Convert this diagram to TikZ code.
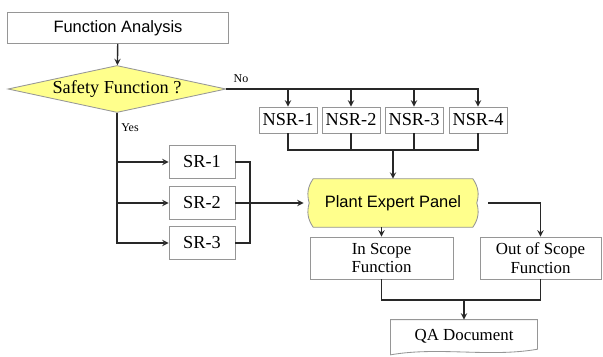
\documentclass[tikz,border=0pt]{standalone}
\usepackage{fontspec}
\setmainfont{Liberation Serif}
\setsansfont{Liberation Sans}
\usetikzlibrary{shapes.geometric,arrows,positioning,calc,backgrounds}
\definecolor{boxgray}{RGB}{150,150,150}
\definecolor{flowyellow}{RGB}{255,255,140}
\definecolor{linegray}{RGB}{40,40,40}

\begin{document}
\begin{tikzpicture}[
    x=0.025cm, y=-0.025cm,
    process/.style={rectangle, draw=boxgray, fill=white, line width=0.6pt, inner sep=1pt, align=center, font=\fontsize{13}{15}\selectfont},
    smallproc/.style={process, font=\fontsize{12}{13}\selectfont},
    sanstext/.style={font=\sffamily\fontsize{11.7}{14}\selectfont},
    decision/.style={diamond, draw=boxgray, fill=flowyellow, line width=0.6pt, shape aspect=4.3, inner sep=0pt, minimum width=5.45cm, minimum height=1.175cm, font=\fontsize{13}{15}\selectfont},
    panelshape/.style={draw=boxgray, fill=flowyellow, line width=0.6pt},
    docshape/.style={draw=boxgray, fill=white, line width=0.6pt},
    arrow/.style={->, >=stealth, line width=1pt, linegray},
    line/.style={line width=1pt, linegray},
    tag/.style={font=\fontsize{8.5}{10}\selectfont}
]
\useasboundingbox (0,0) rectangle (603,356);

\node[process, sanstext, minimum width=5.525cm, minimum height=0.775cm] (fa) at (118,28) {Function Analysis};
\node[decision] (safety) at (117,89) {Safety Function ?};
\draw[arrow] (fa) -- (safety);

% non safety related branch
\foreach \i/\x in {1/288,2/351,3/414,4/478}
  \node[process, minimum width=1.45cm, minimum height=0.65cm] (nsr\i) at (\x,120) {NSR-\i};

% safety related branch
\node[process, minimum width=1.65cm, minimum height=0.825cm] (sr1) at (202,162) {SR-1};
\node[process, minimum width=1.65cm, minimum height=0.825cm] (sr2) at (202,203) {SR-2};
\node[process, minimum width=1.65cm, minimum height=0.825cm] (sr3) at (202,243) {SR-3};

\node[sanstext, minimum width=4.175cm, minimum height=1.2cm] (panel) at (393,203) {Plant Expert Panel};
\node[smallproc, minimum width=3.575cm, minimum height=1.05cm] (inscope) at (381.5,258) {In Scope\\Function};
\node[smallproc, minimum width=3.025cm, minimum height=1.05cm] (outscope) at (540.5,258) {Out of Scope\\Function};
\node[smallproc, draw=none, fill=none, minimum width=3.65cm, minimum height=0.825cm] (qa) at (464,336.5) {QA Document};

\begin{scope}[on background layer]
  \draw[panelshape] ([xshift=0.1cm]panel.north west) -- ([xshift=-0.1cm]panel.north east)
    to[bend left=25] (panel.east) to[bend left=25] ([xshift=-0.1cm]panel.south east)
    -- ([xshift=0.1cm]panel.south west) to[bend left=25] (panel.west)
    to[bend left=25] ([xshift=0.1cm]panel.north west) -- cycle;
  \draw[docshape] (qa.north west) -- (qa.north east) -- ([yshift=3pt]qa.south east)
    .. controls ([xshift=-1.2cm,yshift=-3pt]qa.south east) and ([xshift=1.2cm,yshift=5pt]qa.south west)
    .. ([yshift=-1pt]qa.south west) -- cycle;
\end{scope}

% No
\node[tag] (no) at (241,79) {No};
\draw[arrow] (safety.east) -| (nsr4.north);
\foreach \i in {1,2,3}
  \draw[arrow] (nsr\i.north |- safety.east) -- (nsr\i.north);
\coordinate (nsrbus) at (panel.north |- 0,150);
\draw[line] (nsr1.south) |- (nsrbus) -| (nsr4.south);
\draw[line] (nsr2.south) -- (nsr2.south |- nsrbus);
\draw[line] (nsr3.south) -- (nsr3.south |- nsrbus);
\draw[arrow] (nsrbus) -- (panel.north);

% Yes
\node[tag] (yes) at (130,128) {Yes};
\draw[arrow] (safety.south) |- (sr3.west);
\draw[arrow] (safety.south |- sr1.west) -- (sr1.west);
\draw[arrow] (safety.south |- sr2.west) -- (sr2.west);
\coordinate (srbus) at (250,203);
\draw[line] (sr1.east) -| (srbus) |- (sr3.east);
\draw[arrow, shorten >=4pt] (sr2.east) -- (panel.west);

% expert panel outcome
\draw[arrow, shorten <=8pt] (panel.east) -| (outscope.north);
\draw[arrow] (inscope.north |- panel.south) -- (inscope.north);
\coordinate (qabus) at (qa.north |- 0,300);
\draw[line] (inscope.south) |- (qabus) -| (outscope.south);
\draw[arrow] (qabus) -- (qa.north);

\end{tikzpicture}
\end{document}
